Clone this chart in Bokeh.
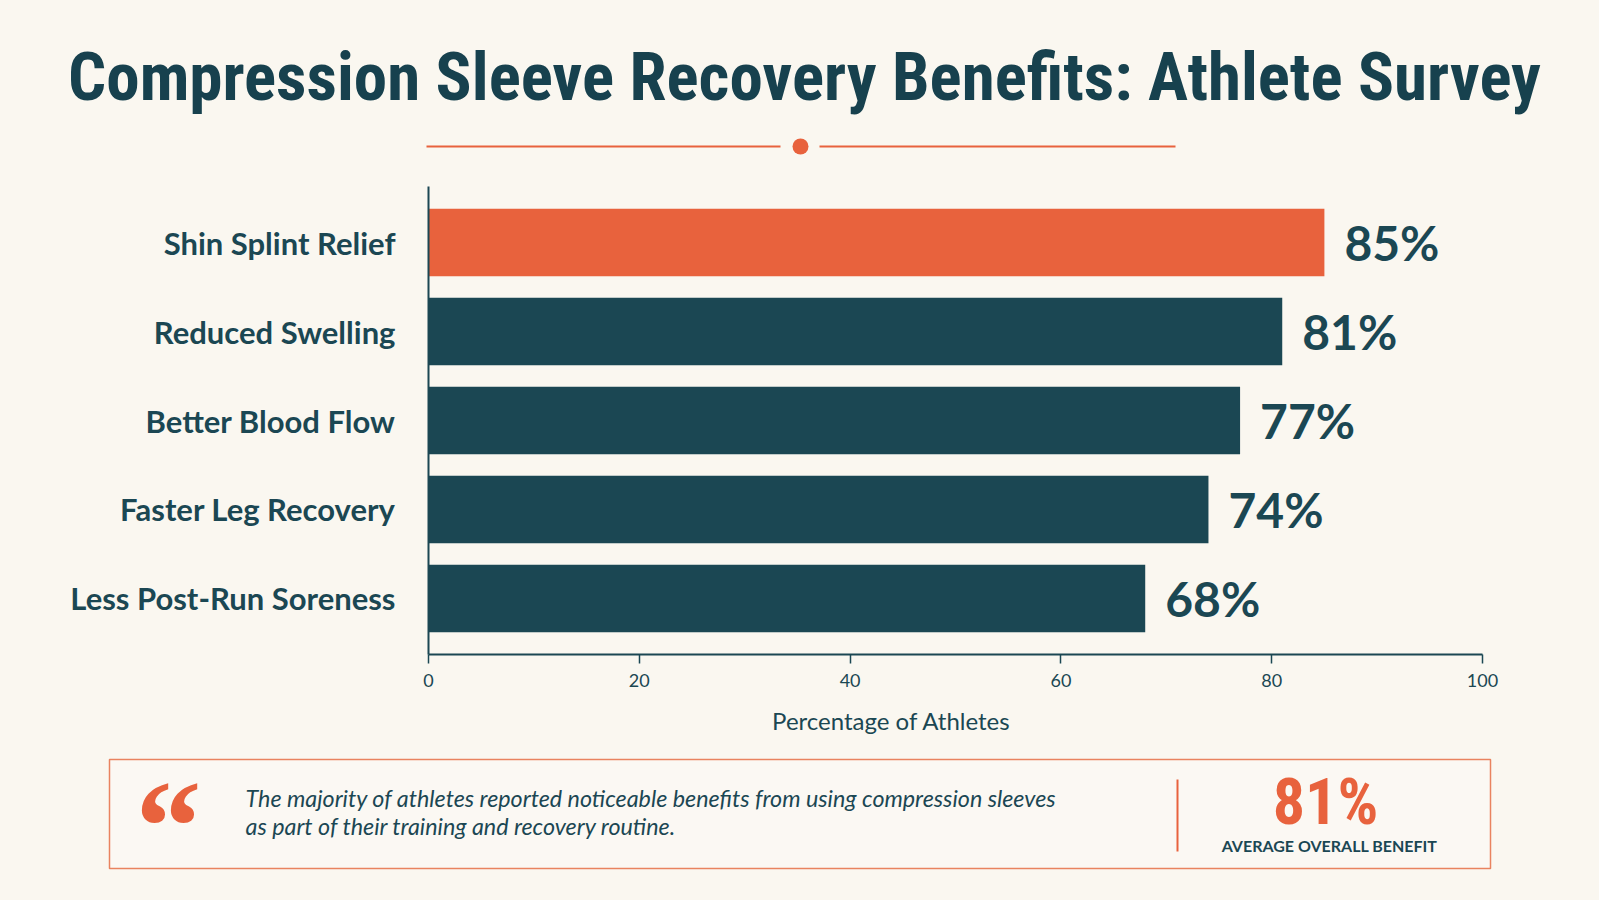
from bokeh.plotting import figure
from bokeh.layouts import column
from bokeh.models import Range1d, FactorRange, FixedTicker
from bokeh.core.properties import value
from bokeh.embed import file_html
from bokeh.resources import INLINE

# ---- data ----
categories = [
    "Shin Splint Relief",
    "Reduced Swelling",
    "Better Blood Flow",
    "Faster Leg Recovery",
    "Less Post-Run Soreness",
]
values = [85, 81, 77, 74, 68]
highlight = "Shin Splint Relief"
x_ticks = [0, 20, 40, 60, 80, 100]
x_title = "Percentage of Athletes"
title_text = "Compression Sleeve Recovery Benefits: Athlete Survey"
quote_lines = [
    "The majority of athletes reported noticeable benefits from using compression sleeves",
    "as part of their training and recovery routine.",
]
avg_benefit = 81
avg_caption = "AVERAGE OVERALL BENEFIT"

# ---- styling ----
BG = "#FAF7F0"
TEAL = "#1B4753"
TITLE_TEAL = "#17414E"
ORANGE = "#E8623D"
W = 1599
CONDENSED = "Roboto Condensed"


def canvas(height):
    """Blank pixel-space panel used for the header and footer."""
    f = figure(width=W, height=height, x_range=Range1d(0, W), y_range=Range1d(height, 0),
               output_backend="svg", toolbar_location=None, min_border=0,
               x_axis_type=None, y_axis_type=None, frame_align=False)
    f.outline_line_color = None
    f.background_fill_color = BG
    f.border_fill_color = BG
    return f


# ---- header: title with ornament ----
HEADER_H = 176
header = canvas(HEADER_H)
header.text(x=[804], y=[76], text=[title_text], text_font=value(CONDENSED),
            text_font_style="bold", text_font_size="67px", text_color=TITLE_TEAL,
            text_align="center", text_baseline="middle")
header.segment(x0=[426, 819], y0=[146, 146], x1=[780, 1175], y1=[146, 146],
               line_color=ORANGE, line_width=2)
header.scatter(x=[800], y=[146], size=16, fill_color=ORANGE, line_color=None)

# ---- chart ----
CHART_H = 524
chart = figure(width=W, height=CHART_H,
               y_range=FactorRange(*categories[::-1], range_padding=0.052),
               x_range=Range1d(0, 100),
               output_backend="svg", toolbar_location=None, frame_align=False)
chart.min_border_left = 428
chart.min_border_right = 117
chart.min_border_top = 10
chart.min_border_bottom = 46
chart.outline_line_color = None
chart.background_fill_color = BG
chart.border_fill_color = BG
chart.grid.visible = False

colors = [ORANGE if c == highlight else TEAL for c in categories]
value_labels = [f"{v}%" for v in values]

chart.hbar(y=categories, left=0, right=values, height=0.76,
           fill_color=colors, line_color=None)
chart.text(x=values, y=categories, text=value_labels, x_offset=20, y_offset=0,
           text_font=value("Lato"), text_font_style="bold", text_font_size="48px",
           text_color=TEAL, text_align="left", text_baseline="middle")

xa = chart.xaxis[0]
xa.ticker = FixedTicker(ticks=x_ticks)
xa.minor_tick_line_color = None
xa.axis_line_color = TEAL
xa.axis_line_width = 2
xa.major_tick_line_color = TEAL
xa.major_tick_line_width = 1.5
xa.major_tick_out = 9
xa.major_tick_in = 0
xa.major_label_standoff = 10
xa.major_label_text_font = "Lato"
xa.major_label_text_font_size = "18px"
xa.major_label_text_color = TEAL

ya = chart.yaxis[0]
ya.axis_line_color = TEAL
ya.axis_line_width = 2
ya.major_tick_line_color = None
ya.minor_tick_line_color = None
ya.major_label_standoff = 27
ya.major_label_text_font = "Lato"
ya.major_label_text_font_style = "bold"
ya.major_label_text_font_size = "31px"
ya.major_label_text_color = TEAL

# ---- footer: axis title and summary card ----
FOOTER_H = 900 - HEADER_H - CHART_H
footer = canvas(FOOTER_H)
footer.text(x=[891], y=[20], text=[x_title], text_font=value("Lato"),
            text_font_size="24px", text_color=TEAL,
            text_align="center", text_baseline="middle")
footer.quad(left=[109], right=[1490], top=[59], bottom=[168],
            fill_color="#FBF8F3", line_color="#E9835F", line_width=1.5)
footer.text(x=[135], y=[199], text=["\u201c"], text_font=value("Liberation Serif"),
            text_font_style="bold", text_font_size="132px", text_color=ORANGE,
            text_align="left", text_baseline="bottom")
footer.text(x=[245, 245], y=[97, 125], text=quote_lines, text_font=value("Lato"),
            text_font_style="italic", text_font_size="23.3px", text_color=TEAL,
            text_align="left", text_baseline="middle")
footer.segment(x0=[1177], y0=[79], x1=[1177], y1=[151], line_color=ORANGE, line_width=2)
footer.text(x=[1325], y=[102], text=[f"{avg_benefit}%"], text_font=value(CONDENSED),
            text_font_style="bold", text_font_size="64px", text_color=ORANGE,
            text_align="center", text_baseline="middle")
footer.text(x=[1329], y=[145], text=[avg_caption], text_font=value("Lato"),
            text_font_style="bold", text_font_size="16px", text_color=TEAL,
            text_align="center", text_baseline="middle")

layout = column(header, chart, footer, spacing=0, styles={"background-color": BG})
open("out.html", "w").write(file_html(layout, INLINE))
